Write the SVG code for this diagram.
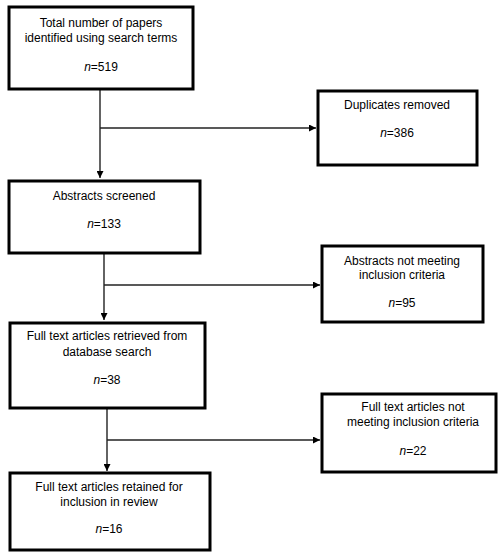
<svg xmlns="http://www.w3.org/2000/svg" width="498" height="556" viewBox="0 0 498 556">
<defs>
<marker id="ah" viewBox="0 0 10 10" refX="10" refY="5" markerWidth="7" markerHeight="7" markerUnits="userSpaceOnUse" orient="auto">
<path d="M0,0 L10,5 L0,10 z" fill="#000"/>
</marker>
<style>
.box{fill:#fff;stroke:#000;stroke-width:3}
.t{font-family:"Liberation Sans",Arial,sans-serif;font-size:12px;fill:#000;text-anchor:middle}
.c{fill:none;stroke:#222;stroke-width:1.4}
</style>
</defs>
<rect width="498" height="556" fill="#fff"/>
<g id="connectors">
<path class="c" d="M100,89 V178" marker-end="url(#ah)"/>
<path class="c" d="M100,128 H316" marker-end="url(#ah)"/>
<path class="c" d="M104,253 V320" marker-end="url(#ah)"/>
<path class="c" d="M104,285 H320" marker-end="url(#ah)"/>
<path class="c" d="M107,408 V471" marker-end="url(#ah)"/>
<path class="c" d="M107,440 H320" marker-end="url(#ah)"/>
</g>
<g id="n1">
<rect class="box" x="9" y="7" width="184" height="82"/>
<text class="t" x="101" y="27">Total number of papers</text>
<text class="t" x="101" y="42">identified using search terms</text>
<text class="t" x="101" y="71"><tspan font-style="italic">n</tspan>=519</text>
</g>
<g id="n2">
<rect class="box" x="318" y="91" width="159" height="74"/>
<text class="t" x="397" y="109">Duplicates removed</text>
<text class="t" x="397" y="137"><tspan font-style="italic">n</tspan>=386</text>
</g>
<g id="n3">
<rect class="box" x="9" y="181" width="191" height="72"/>
<text class="t" x="104" y="200">Abstracts screened</text>
<text class="t" x="104" y="228"><tspan font-style="italic">n</tspan>=133</text>
</g>
<g id="n4">
<rect class="box" x="322" y="246" width="161" height="76"/>
<text class="t" x="402" y="265">Abstracts not meeting</text>
<text class="t" x="402" y="279">inclusion criteria</text>
<text class="t" x="402" y="307"><tspan font-style="italic">n</tspan>=95</text>
</g>
<g id="n5">
<rect class="box" x="10" y="323" width="195" height="85"/>
<text class="t" x="107" y="340">Full text articles retrieved from</text>
<text class="t" x="107" y="356">database search</text>
<text class="t" x="107" y="384"><tspan font-style="italic">n</tspan>=38</text>
</g>
<g id="n6">
<rect class="box" x="322" y="394" width="174" height="78"/>
<text class="t" x="413" y="411">Full text articles not</text>
<text class="t" x="413" y="426">meeting inclusion criteria</text>
<text class="t" x="413" y="455"><tspan font-style="italic">n</tspan>=22</text>
</g>
<g id="n7">
<rect class="box" x="10" y="473" width="200" height="77"/>
<text class="t" x="109" y="491">Full text articles retained for</text>
<text class="t" x="109" y="506">inclusion in review</text>
<text class="t" x="109" y="533"><tspan font-style="italic">n</tspan>=16</text>
</g>
</svg>
